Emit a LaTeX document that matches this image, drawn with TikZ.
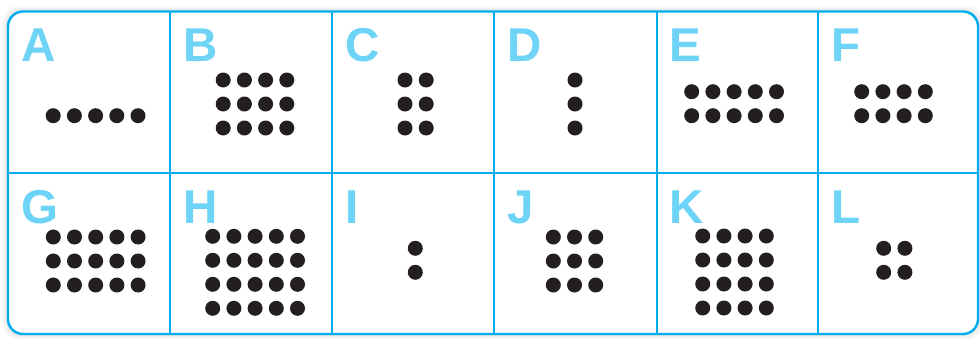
\documentclass[tikz,border=0pt]{standalone}
\usepackage{fontspec}
\setmainfont{Liberation Sans}
\definecolor{gridblue}{HTML}{00AEEF}
\definecolor{labelblue}{HTML}{6DD3F7}
\definecolor{dotblack}{HTML}{231F20}
\newcommand{\dotgrid}[4]{%
  \foreach \ci in {1,...,#3}{%
    \foreach \ri in {1,...,#4}{%
      \fill[dotstyle] ({#1+(\ci-1)*21.2},{#2+(\ri-1)*24}) circle[radius=7.5];
    }%
  }%
}
\begin{document}
\begin{tikzpicture}[x=1pt,y=-1pt,
  gridline/.style={draw=gridblue,line width=2pt},
  outerline/.style={draw=gridblue,line width=2.4pt,rounded corners=15pt},
  lab/.style={anchor=base west,inner sep=0pt,text=labelblue,font=\fontsize{47.5}{50}\selectfont\bfseries},
  dotstyle/.style={fill=dotblack}]
\useasboundingbox (0,0) rectangle (980,338);
% soft shadow
\foreach \s/\o in {6/0.025,4/0.035,2/0.05}{
  \fill[black,opacity=\o,rounded corners=17pt] (8-\s,11.5-\s) rectangle (978+\s,334+\s);
}
\fill[white,rounded corners=15pt] (8,11.5) rectangle (978,334);
% inner grid lines
\draw[gridline] (8,173) -- (978,173);
\foreach \x in {170,332,494,656.5,818}{
  \draw[gridline] (\x,11.5) -- (\x,334);
}
\draw[outerline] (8,11.5) rectangle (978,334);
% labels
\node[lab] (lA) at (21,61) {A};
\node[lab] (lB) at (183,61) {B};
\node[lab] (lC) at (345,61) {C};
\node[lab] (lD) at (507,61) {D};
\node[lab] (lE) at (669.5,61) {E};
\node[lab] (lF) at (831,61) {F};
\node[lab] (lG) at (21,223) {G};
\node[lab] (lH) at (183,223) {H};
\node[lab] (lI) at (345,223) {I};
\node[lab] (lJ) at (507,223) {J};
\node[lab] (lK) at (669.5,223) {K};
\node[lab] (lL) at (831,223) {L};
% dots
\dotgrid{53.2}{115.7}{5}{1}
\dotgrid{223.2}{80}{4}{3}
\dotgrid{405}{80}{2}{3}
\dotgrid{575}{80}{1}{3}
\dotgrid{691.7}{91.7}{5}{2}
\dotgrid{861.7}{91.7}{4}{2}
\dotgrid{53.3}{237}{5}{3}
\dotgrid{212.7}{236.3}{5}{4}
\dotgrid{415.3}{248.3}{1}{2}
\dotgrid{553.3}{237}{3}{3}
\dotgrid{702.7}{236}{4}{4}
\dotgrid{883.7}{248.3}{2}{2}
\end{tikzpicture}
\end{document}
